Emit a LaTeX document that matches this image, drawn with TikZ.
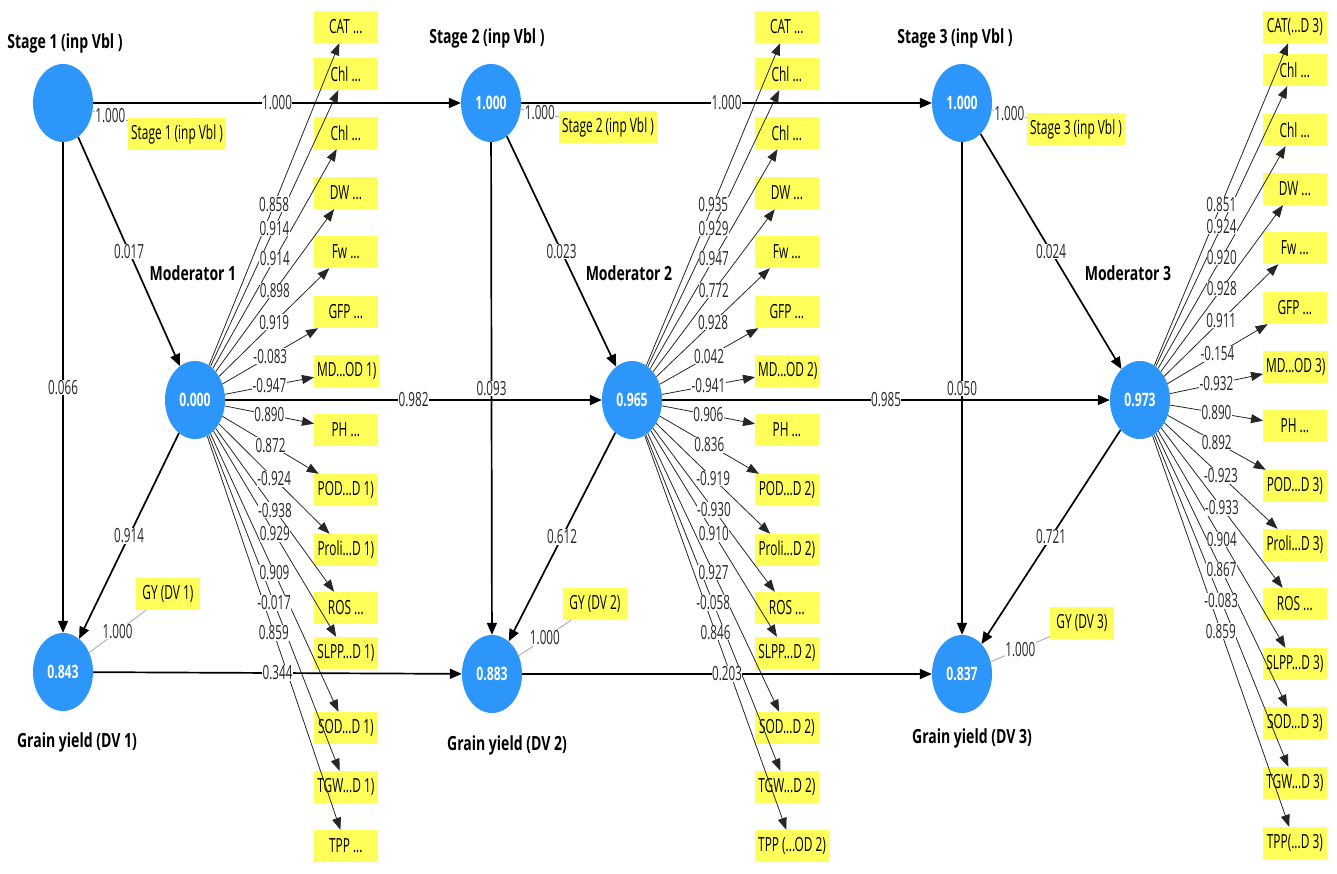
\documentclass[tikz,border=0pt]{standalone}
\usepackage{fontspec}
\setmainfont{Open Sans}
\usepackage{xcolor}
\usepackage{tikz}
\usetikzlibrary{shapes.geometric,arrows.meta,positioning,calc}

\definecolor{lvblue}{RGB}{45,150,250}
\definecolor{mvyellow}{RGB}{255,255,90}
\newcommand{\elps}{...}

\tikzset{
  lv/.style={xscale=0.66, ellipse, fill=lvblue, text=white, minimum width=91pt, minimum height=78pt, inner sep=0pt, font=\fontsize{18.5}{20}\selectfont\bfseries},
  mv/.style={xscale=0.61, rectangle, fill=mvyellow, anchor=west, minimum width=104pt, minimum height=32pt, inner xsep=5pt, inner ysep=0pt, font=\fontsize{19.5}{21}\selectfont},
  head/.style={xscale=0.72, font=\fontsize{19.5}{21}\selectfont\bfseries},
  lbl/.style={xscale=0.6, fill=white, text=black!85, inner sep=0.6pt, font=\fontsize{19.5}{21}\selectfont},
  sline/.style={line width=1.7pt, -{Triangle[length=12pt,width=10pt]}},
  ld/.style={line width=0.8pt, black!85, -{Triangle[length=12pt,width=9pt]}},
  iline/.style={line width=0.8pt, gray!70}
}

% loadings per block
\def\loadsA{1/0.858,2/0.914,3/0.914,4/0.898,5/0.919,6/-0.083,7/-0.947,8/0.890,9/0.872,10/-0.924,11/-0.938,12/0.929,13/0.909,14/-0.017,15/0.859}
\def\loadsB{1/0.935,2/0.929,3/0.947,4/0.772,5/0.928,6/0.042,7/-0.941,8/0.906,9/0.836,10/-0.919,11/-0.930,12/0.910,13/0.927,14/-0.058,15/0.846}
\def\loadsC{1/0.851,2/0.924,3/0.920,4/0.928,5/0.911,6/-0.154,7/-0.932,8/0.890,9/0.892,10/-0.923,11/-0.933,12/0.904,13/0.867,14/-0.083,15/0.859}

\begin{document}
\begin{tikzpicture}[x=1pt, y=-1pt]
\useasboundingbox (0,0) rectangle (1337,873);

% Headings
\node[head] at (65,43) {Stage 1 (inp Vbl )};
\node[head] at (487,38) {Stage 2 (inp Vbl )};
\node[head] at (955,38) {Stage 3 (inp Vbl )};
\node[head] at (193,273) {Moderator 1};
\node[head] at (629,273) {Moderator 2};
\node[head] at (1128,273) {Moderator 3};
\node[head] at (77,742) {Grain yield (DV 1)};
\node[head] at (507,745) {Grain yield (DV 2)};
\node[head] at (972,738) {Grain yield (DV 3)};

% Latent variables
\node[lv] (s1) at (63,103) {};
\node[lv] (m1) at (195,400) {0.000};
\node[lv] (g1) at (63,672) {0.843};
\node[lv] (s2) at (491,103) {1.000};
\node[lv] (m2) at (632,400) {0.965};
\node[lv] (g2) at (492,674) {0.883};
\node[lv] (s3) at (962,103) {1.000};
\node[lv] (m3) at (1140,400) {0.973};
\node[lv] (g3) at (962,674) {0.837};

% Single indicators
\node[mv] (sa) at (128,134) {Stage 1 (inp Vbl )};
\node[mv] (sb) at (559,127) {Stage 2 (inp Vbl )};
\node[mv] (sc) at (1027,129) {Stage 3 (inp Vbl )};
\node[mv] (ga) at (136,594) {GY (DV 1)};
\node[mv] (gb) at (563,604) {GY (DV 2)};
\node[mv] (gc) at (1050,623) {GY (DV 3)};

% Indicators of moderator 1
\foreach \i/\y/\txt in {1/27/CAT \elps, 2/74/Chl \elps, 3/133/Chl \elps, 4/193/DW \elps, 5/252/Fw \elps, 6/312/GFP \elps, 7/371/MD\elps OD 1), 8/430/PH \elps, 9/490/POD\elps D 1), 10/550/Proli\elps D 1), 11/608/ROS \elps, 12/653/SLPP\elps D 1), 13/728/SOD\elps D 1), 14/787/TGW\elps D 1), 15/846/TPP \elps}
    \node[mv] (a\i) at (314,\y) {\txt};

% Indicators of moderator 2
\foreach \i/\y/\txt in {1/27/CAT \elps, 2/74/Chl \elps, 3/133/Chl \elps, 4/193/DW \elps, 5/252/Fw \elps, 6/312/GFP \elps, 7/371/MD\elps OD 2), 8/430/PH \elps, 9/490/POD\elps D 2), 10/550/Proli\elps D 2), 11/608/ROS \elps, 12/653/SLPP\elps D 2), 13/728/SOD\elps D 2), 14/787/TGW\elps D 2), 15/846/TPP (\elps OD 2)}
    \node[mv] (b\i) at (755,\y) {\txt};

% Indicators of moderator 3
\foreach \i/\y/\txt in {1/27/CAT(\elps D 3), 2/70/Chl \elps, 3/130/Chl \elps, 4/189/DW \elps, 5/248/Fw \elps, 6/308/GFP \elps, 7/367/MD\elps OD 3), 8/426/PH \elps, 9/486/POD\elps D 3), 10/545/Proli\elps D 3), 11/604/ROS \elps, 12/664/SLPP\elps D 3), 13/723/SOD\elps D 3), 14/783/TGW\elps D 3), 15/843/TPP(\elps D 3)}
    \node[mv] (c\i) at (1263,\y) {\txt};

% Outer loadings (lines)
\foreach \i/\v in \loadsA { \draw[ld] (m1) -- (a\i); }
\foreach \i/\v in \loadsB { \draw[ld] (m2) -- (b\i); }
\foreach \i/\v in \loadsC { \draw[ld] (m3) -- (c\i); }

\draw[iline] (s1) -- node[lbl] {1.000} (sa);
\draw[iline] (s2) -- node[lbl] {1.000} (sb);
\draw[iline] (s3) -- node[lbl] {1.000} (sc);
\draw[iline] (g1) -- node[lbl] {1.000} (ga);
\draw[iline] (g2) -- node[lbl] {1.000} (gb);
\draw[iline] (g3) -- node[lbl] {1.000} (gc);

% Path coefficients
\draw[sline] (s1) -- node[lbl] {1.000} (s2);
\draw[sline] (s1) -- node[lbl] {0.017} (m1);
\draw[sline] (s1) -- node[lbl] {0.066} (g1);
\draw[sline] (m1) -- node[lbl] {0.914} (g1);
\draw[sline] (m1) -- node[lbl] {0.982} (m2);
\draw[sline] (g1) -- node[lbl] {0.344} (g2);
\draw[sline] (s2) -- node[lbl] {1.000} (s3);
\draw[sline] (s2) -- node[lbl] {0.023} (m2);
\draw[sline] (s2) -- node[lbl] {0.093} (g2);
\draw[sline] (m2) -- node[lbl] {0.612} (g2);
\draw[sline] (m2) -- node[lbl] {0.985} (m3);
\draw[sline] (g2) -- node[lbl] {0.203} (g3);
\draw[sline] (s3) -- node[lbl] {0.024} (m3);
\draw[sline] (s3) -- node[lbl] {0.050} (g3);
\draw[sline] (m3) -- node[lbl] {0.721} (g3);

% Outer loadings (values)
\foreach \i/\v in \loadsA { \path (m1) -- node[lbl] {\v} (a\i); }
\foreach \i/\v in \loadsB { \path (m2) -- node[lbl] {\v} (b\i); }
\foreach \i/\v in \loadsC { \path (m3) -- node[lbl] {\v} (c\i); }
\end{tikzpicture}
\end{document}
